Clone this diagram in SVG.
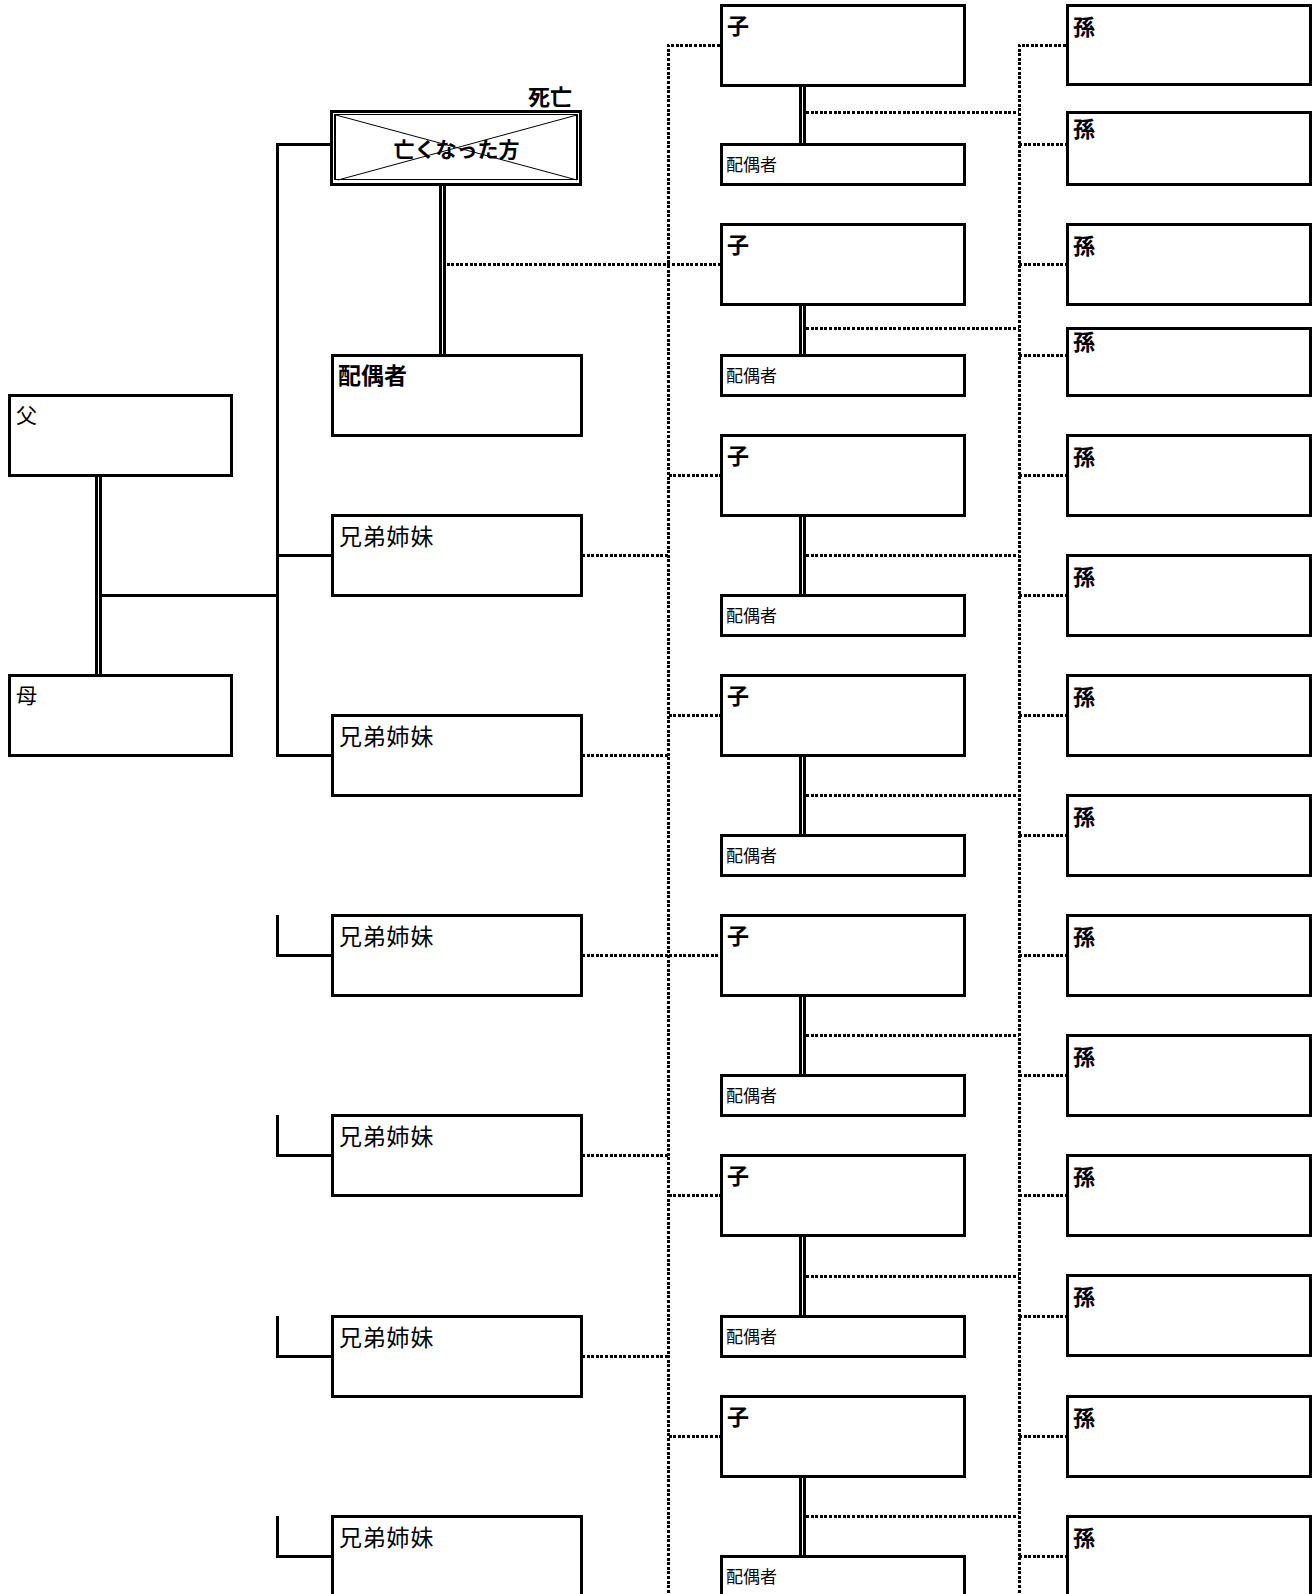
<svg xmlns="http://www.w3.org/2000/svg" width="1316" height="1594" viewBox="0 0 1316 1594">
<style>
.box{fill:#fff;stroke:#000;stroke-width:3;shape-rendering:crispEdges}
.ln{fill:none;stroke:#000;stroke-width:3;shape-rendering:crispEdges}
.dl{fill:none;stroke:#000;stroke-width:3;shape-rendering:crispEdges}
.dot{fill:none;stroke:#000;stroke-width:3;stroke-dasharray:3 1.6;shape-rendering:crispEdges}
.t{font-family:"Noto Sans CJK JP","Noto Sans CJK SC",sans-serif;fill:#000}
.b{font-weight:bold}
.f21{font-size:21px}
.f22{font-size:22px}
.f23{font-size:23px}
.f17{font-size:17px}
.ls{letter-spacing:0.8px}
</style>
<rect width="1316" height="1594" fill="#fff"/>
<g id="connectors">
  <line class="dl" x1="96.5" y1="475" x2="96.5" y2="675"/>
  <line class="dl" x1="100.5" y1="475" x2="100.5" y2="675"/>
  <line class="ln" x1="102" y1="595" x2="277" y2="595"/>
  <polyline class="ln" points="330,144 277,144 277,755 332,755"/>
  <line class="ln" x1="277" y1="555" x2="332" y2="555"/>
  <polyline class="ln" points="277,915 277,955 332,955"/>
  <polyline class="ln" points="277,1115 277,1155 332,1155"/>
  <polyline class="ln" points="277,1316 277,1356 332,1356"/>
  <polyline class="ln" points="277,1516 277,1556 332,1556"/>
  <line class="dl" x1="440.5" y1="186" x2="440.5" y2="355"/>
  <line class="dl" x1="444.5" y1="186" x2="444.5" y2="355"/>
  <line class="dl" x1="800.5" y1="85" x2="800.5" y2="144"/>
  <line class="dl" x1="804.5" y1="85" x2="804.5" y2="144"/>
  <line class="dl" x1="800.5" y1="304" x2="800.5" y2="355"/>
  <line class="dl" x1="804.5" y1="304" x2="804.5" y2="355"/>
  <line class="dl" x1="800.5" y1="515" x2="800.5" y2="595"/>
  <line class="dl" x1="804.5" y1="515" x2="804.5" y2="595"/>
  <line class="dl" x1="800.5" y1="755" x2="800.5" y2="835"/>
  <line class="dl" x1="804.5" y1="755" x2="804.5" y2="835"/>
  <line class="dl" x1="800.5" y1="995" x2="800.5" y2="1075"/>
  <line class="dl" x1="804.5" y1="995" x2="804.5" y2="1075"/>
  <line class="dl" x1="800.5" y1="1235" x2="800.5" y2="1316"/>
  <line class="dl" x1="804.5" y1="1235" x2="804.5" y2="1316"/>
  <line class="dl" x1="800.5" y1="1476" x2="800.5" y2="1556"/>
  <line class="dl" x1="804.5" y1="1476" x2="804.5" y2="1556"/>
  <polyline class="dot" points="720,45 668.5,45 668.5,1594"/>
  <line class="dot" x1="446.5" y1="264" x2="720" y2="264"/>
  <line class="dot" x1="668.5" y1="475" x2="720" y2="475"/>
  <line class="dot" x1="668.5" y1="715" x2="720" y2="715"/>
  <line class="dot" x1="582" y1="955" x2="720" y2="955"/>
  <line class="dot" x1="668.5" y1="1195" x2="720" y2="1195"/>
  <line class="dot" x1="668.5" y1="1436" x2="720" y2="1436"/>
  <line class="dot" x1="582" y1="555" x2="668.5" y2="555"/>
  <line class="dot" x1="582" y1="755" x2="668.5" y2="755"/>
  <line class="dot" x1="582" y1="1155" x2="668.5" y2="1155"/>
  <line class="dot" x1="582" y1="1356" x2="668.5" y2="1356"/>
  <polyline class="dot" points="1066,45 1019,45 1019,1594"/>
  <line class="dot" x1="806" y1="112" x2="1019" y2="112"/>
  <line class="dot" x1="806" y1="328" x2="1019" y2="328"/>
  <line class="dot" x1="806" y1="555" x2="1019" y2="555"/>
  <line class="dot" x1="806" y1="795" x2="1019" y2="795"/>
  <line class="dot" x1="806" y1="1035" x2="1019" y2="1035"/>
  <line class="dot" x1="806" y1="1276" x2="1019" y2="1276"/>
  <line class="dot" x1="806" y1="1516" x2="1019" y2="1516"/>
  <line class="dot" x1="1019" y1="144" x2="1066" y2="144"/>
  <line class="dot" x1="1019" y1="264" x2="1066" y2="264"/>
  <line class="dot" x1="1019" y1="355" x2="1066" y2="355"/>
  <line class="dot" x1="1019" y1="475" x2="1066" y2="475"/>
  <line class="dot" x1="1019" y1="595" x2="1066" y2="595"/>
  <line class="dot" x1="1019" y1="715" x2="1066" y2="715"/>
  <line class="dot" x1="1019" y1="835" x2="1066" y2="835"/>
  <line class="dot" x1="1019" y1="955" x2="1066" y2="955"/>
  <line class="dot" x1="1019" y1="1075" x2="1066" y2="1075"/>
  <line class="dot" x1="1019" y1="1195" x2="1066" y2="1195"/>
  <line class="dot" x1="1019" y1="1316" x2="1066" y2="1316"/>
  <line class="dot" x1="1019" y1="1436" x2="1066" y2="1436"/>
  <line class="dot" x1="1019" y1="1556" x2="1066" y2="1556"/>
</g>
<g id="father"><rect class="box" x="9.5" y="395.5" width="222" height="80"/><text class="t f21" x="16" y="423">父</text></g>
<g id="mother"><rect class="box" x="9.5" y="675.5" width="222" height="80"/><text class="t f21" x="16" y="703">母</text></g>
<g id="deceased">
  <text class="t b f22" x="572" y="105" text-anchor="end">死亡</text>
  <rect x="331.5" y="111" width="249" height="73.5" fill="#fff" stroke="#000" stroke-width="3" shape-rendering="crispEdges"/>
  <rect x="335" y="114.5" width="242" height="65" fill="none" stroke="#000" stroke-width="1.3" shape-rendering="crispEdges"/>
  <text class="t b f21" x="456.5" y="157" text-anchor="middle">亡くなった方</text>
  <line x1="336" y1="115" x2="577" y2="180" stroke="#000" stroke-width="1"/>
  <line x1="338" y1="180" x2="577" y2="115" stroke="#000" stroke-width="1"/>
</g>
<g id="spouse"><rect class="box" x="332.5" y="355" width="248.5" height="80"/><text class="t b f23" x="338" y="384">配偶者</text></g>
<g id="sibling1"><rect class="box" x="332.5" y="515" width="248.5" height="80"/><text class="t f23 ls" x="339" y="545">兄弟姉妹</text></g>
<g id="sibling2"><rect class="box" x="332.5" y="715" width="248.5" height="80"/><text class="t f23 ls" x="339" y="745">兄弟姉妹</text></g>
<g id="sibling3"><rect class="box" x="332.5" y="915" width="248.5" height="80"/><text class="t f23 ls" x="339" y="945">兄弟姉妹</text></g>
<g id="sibling4"><rect class="box" x="332.5" y="1115" width="248.5" height="80"/><text class="t f23 ls" x="339" y="1145">兄弟姉妹</text></g>
<g id="sibling5"><rect class="box" x="332.5" y="1316" width="248.5" height="80"/><text class="t f23 ls" x="339" y="1346">兄弟姉妹</text></g>
<g id="sibling6"><rect class="box" x="332.5" y="1516" width="248.5" height="80"/><text class="t f23 ls" x="339" y="1546">兄弟姉妹</text></g>
<g id="child1"><rect class="box" x="721" y="5" width="243.5" height="80"/><text class="t b f22" x="727" y="34">子</text></g>
<g id="child2"><rect class="box" x="721" y="224" width="243.5" height="80"/><text class="t b f22" x="727" y="253">子</text></g>
<g id="child3"><rect class="box" x="721" y="435" width="243.5" height="80"/><text class="t b f22" x="727" y="464">子</text></g>
<g id="child4"><rect class="box" x="721" y="675" width="243.5" height="80"/><text class="t b f22" x="727" y="704">子</text></g>
<g id="child5"><rect class="box" x="721" y="915" width="243.5" height="80"/><text class="t b f22" x="727" y="944">子</text></g>
<g id="child6"><rect class="box" x="721" y="1155" width="243.5" height="80"/><text class="t b f22" x="727" y="1184">子</text></g>
<g id="child7"><rect class="box" x="721" y="1396" width="243.5" height="80"/><text class="t b f22" x="727" y="1425">子</text></g>
<g id="cspouse1"><rect class="box" x="721" y="144" width="243.5" height="40"/><text class="t f17" x="726" y="171">配偶者</text></g>
<g id="cspouse2"><rect class="box" x="721" y="355" width="243.5" height="40"/><text class="t f17" x="726" y="382">配偶者</text></g>
<g id="cspouse3"><rect class="box" x="721" y="595" width="243.5" height="40"/><text class="t f17" x="726" y="622">配偶者</text></g>
<g id="cspouse4"><rect class="box" x="721" y="835" width="243.5" height="40"/><text class="t f17" x="726" y="862">配偶者</text></g>
<g id="cspouse5"><rect class="box" x="721" y="1075" width="243.5" height="40"/><text class="t f17" x="726" y="1102">配偶者</text></g>
<g id="cspouse6"><rect class="box" x="721" y="1316" width="243.5" height="40"/><text class="t f17" x="726" y="1343">配偶者</text></g>
<g id="cspouse7"><rect class="box" x="721" y="1556" width="243.5" height="40"/><text class="t f17" x="726" y="1583">配偶者</text></g>
<g id="gc1"><rect class="box" x="1067" y="5" width="243" height="79"/><text class="t b f22" x="1073" y="34.5">孫</text></g>
<g id="gc2"><rect class="box" x="1067" y="112" width="243" height="72"/><text class="t b f22" x="1073" y="137">孫</text></g>
<g id="gc3"><rect class="box" x="1067" y="224" width="243" height="80"/><text class="t b f22" x="1073" y="253.5">孫</text></g>
<g id="gc4"><rect class="box" x="1067" y="328" width="243" height="67"/><text class="t b f22" x="1073" y="350">孫</text></g>
<g id="gc5"><rect class="box" x="1067" y="435" width="243" height="80"/><text class="t b f22" x="1073" y="464.5">孫</text></g>
<g id="gc6"><rect class="box" x="1067" y="555" width="243" height="80"/><text class="t b f22" x="1073" y="584.5">孫</text></g>
<g id="gc7"><rect class="box" x="1067" y="675" width="243" height="80"/><text class="t b f22" x="1073" y="704.5">孫</text></g>
<g id="gc8"><rect class="box" x="1067" y="795" width="243" height="80"/><text class="t b f22" x="1073" y="824.5">孫</text></g>
<g id="gc9"><rect class="box" x="1067" y="915" width="243" height="80"/><text class="t b f22" x="1073" y="944.5">孫</text></g>
<g id="gc10"><rect class="box" x="1067" y="1035" width="243" height="80"/><text class="t b f22" x="1073" y="1064.5">孫</text></g>
<g id="gc11"><rect class="box" x="1067" y="1155" width="243" height="80"/><text class="t b f22" x="1073" y="1184.5">孫</text></g>
<g id="gc12"><rect class="box" x="1067" y="1275" width="243" height="80"/><text class="t b f22" x="1073" y="1304.5">孫</text></g>
<g id="gc13"><rect class="box" x="1067" y="1396" width="243" height="80"/><text class="t b f22" x="1073" y="1425.5">孫</text></g>
<g id="gc14"><rect class="box" x="1067" y="1516" width="243" height="80"/><text class="t b f22" x="1073" y="1545.5">孫</text></g>
</svg>
